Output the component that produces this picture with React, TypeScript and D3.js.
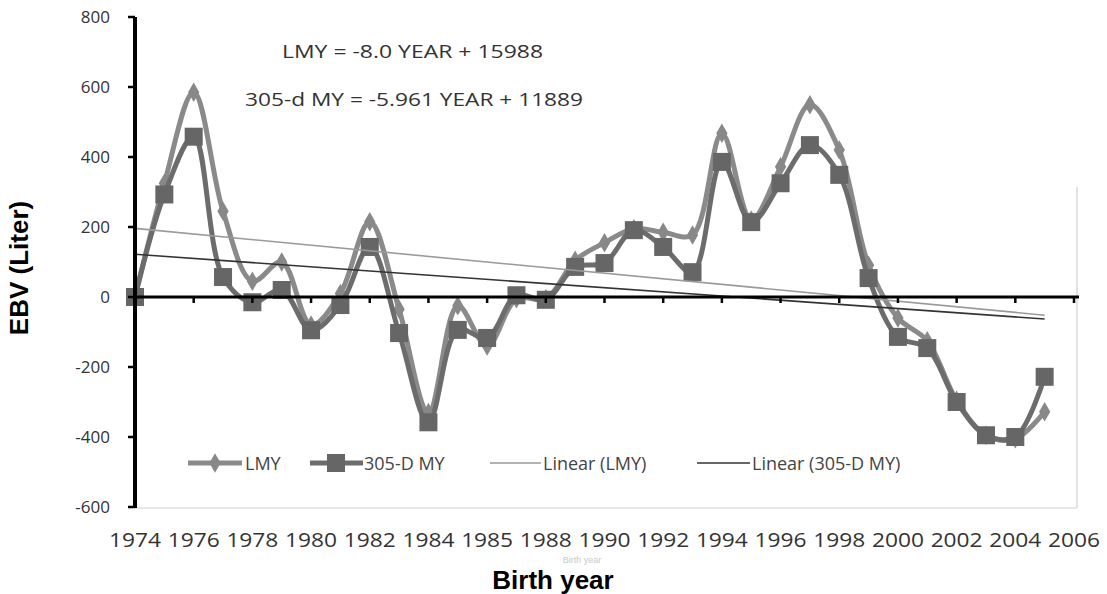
import { useEffect, useRef } from "react";
import * as d3 from "d3";

const years = [
  1974, 1975, 1976, 1977, 1978, 1979, 1980, 1981, 1982, 1983, 1984, 1985, 1986, 1987, 1988, 1989,
  1990, 1991, 1992, 1993, 1994, 1995, 1996, 1997, 1998, 1999, 2000, 2001, 2002, 2003, 2004, 2005,
];
const lmy = [
  0, 325, 585, 245, 45, 100, -80, 10, 215, -35, -330, -25, -140, -5, -5, 105,
  155, 195, 185, 177, 468, 220, 372, 549, 420, 91, -60, -125, -295, -395, -405, -328,
];
const my305 = [
  0, 293, 458, 57, -15, 20, -95, -23, 143, -103, -358, -94, -117, 5, -8, 86,
  97, 191, 143, 71, 386, 214, 325, 434, 349, 54, -114, -146, -300, -395, -400, -228,
];
// trendline equations printed on the chart
const trendLMY = { slope: -8.0, intercept: 15988 };
const trend305 = { slope: -5.961, intercept: 11889 };

const xTickYears = [1974, 1976, 1978, 1980, 1982, 1984, 1986, 1988, 1990, 1992, 1994, 1996, 1998, 2000, 2002, 2004, 2006];
const xTickLabels = ["1974", "1976", "1978", "1980", "1982", "1984", "1985", "1988", "1990", "1992", "1994", "1996", "1998", "2000", "2002", "2004", "2006"];
const yTicks = [-600, -400, -200, 0, 200, 400, 600, 800];

const App = () => {
  const ref = useRef<SVGSVGElement>(null);

  useEffect(() => {
    const width = 1107;
    const height = 594;
    const svg = d3.select(ref.current).attr("width", width).attr("height", height);
    svg.selectAll("*").remove();

    const x = d3.scaleLinear().domain([1974, 2006]).range([135, 1074]);
    const y = d3.scaleLinear().domain([-600, 800]).range([507, 17]);
    const font = "'Open Sans', 'DejaVu Sans', sans-serif";

    // faint plot-area border
    svg.append("line").attr("x1", 1077).attr("x2", 1077).attr("y1", 187).attr("y2", 508)
      .attr("stroke", "#e2e2e2").attr("stroke-width", 2);
    svg.append("line").attr("x1", 135).attr("x2", 1077).attr("y1", 508).attr("y2", 508)
      .attr("stroke", "#e6e6e6").attr("stroke-width", 2);

    const line = d3.line<number>()
      .x((_, i) => x(years[i]))
      .y((d) => y(d))
      .curve(d3.curveCatmullRom.alpha(0.5));

    // LMY series
    svg.append("path").datum(lmy).attr("d", line).attr("fill", "none")
      .attr("stroke", "#8a8a8a").attr("stroke-width", 5);
    svg.append("g").selectAll("path").data(lmy).enter().append("path")
      .attr("d", d3.symbol(d3.symbolDiamond, 110)())
      .attr("transform", (d, i) => `translate(${x(years[i])},${y(d)})`)
      .attr("fill", "#888");

    // 305-d MY series
    svg.append("path").datum(my305).attr("d", line).attr("fill", "none")
      .attr("stroke", "#6c6c6c").attr("stroke-width", 5);
    svg.append("g").selectAll("rect").data(my305).enter().append("rect")
      .attr("x", (_, i) => x(years[i]) - 9)
      .attr("y", (d) => y(d) - 9)
      .attr("width", 18).attr("height", 18)
      .attr("fill", "#666");

    // trendlines
    const first = years[0];
    const last = years[years.length - 1];
    const trend = (t: { slope: number; intercept: number }, color: string) =>
      svg.append("line")
        .attr("x1", x(first)).attr("y1", y(t.slope * first + t.intercept))
        .attr("x2", x(last)).attr("y2", y(t.slope * last + t.intercept))
        .attr("stroke", color).attr("stroke-width", 1.6);
    trend(trendLMY, "#9a9a9a");
    trend(trend305, "#333");

    // axes
    svg.append("line").attr("x1", x(1974)).attr("x2", 1079).attr("y1", y(0)).attr("y2", y(0))
      .attr("stroke", "#000").attr("stroke-width", 3);
    svg.append("g").selectAll("line").data(xTickYears.slice(1)).enter().append("line")
      .attr("x1", (d) => x(d)).attr("x2", (d) => x(d))
      .attr("y1", y(0)).attr("y2", y(0) + 6)
      .attr("stroke", "#000").attr("stroke-width", 2.5);
    svg.append("line").attr("x1", 135).attr("x2", 135).attr("y1", y(800)).attr("y2", y(-600) + 1)
      .attr("stroke", "#000").attr("stroke-width", 4);
    svg.append("g").selectAll("line").data(yTicks).enter().append("line")
      .attr("x1", 128).attr("x2", 135)
      .attr("y1", (d) => y(d)).attr("y2", (d) => y(d))
      .attr("stroke", "#000").attr("stroke-width", 2.5);

    svg.append("g").selectAll("text").data(yTicks).enter().append("text")
      .attr("x", 110).attr("y", (d) => y(d) + 6)
      .attr("text-anchor", "end")
      .attr("font-family", font).attr("font-size", 17)
      .attr("fill", "#333")
      .text((d) => String(d));

    svg.append("g").selectAll("text").data(xTickYears).enter().append("text")
      .attr("x", (d) => x(d)).attr("y", 547)
      .attr("text-anchor", "middle")
      .attr("font-family", font).attr("font-size", 20)
      .attr("textLength", 52).attr("lengthAdjust", "spacingAndGlyphs")
      .attr("fill", "#333")
      .text((_, i) => xTickLabels[i]);

    // equations
    svg.append("text").attr("x", 282).attr("y", 58)
      .attr("font-family", font).attr("font-size", 18).attr("fill", "#333")
      .attr("textLength", 261).attr("lengthAdjust", "spacingAndGlyphs")
      .text("LMY = -8.0 YEAR + 15988");
    svg.append("text").attr("x", 245).attr("y", 106)
      .attr("font-family", font).attr("font-size", 18).attr("fill", "#333")
      .attr("textLength", 338).attr("lengthAdjust", "spacingAndGlyphs")
      .text("305-d MY = -5.961 YEAR + 11889");

    // legend
    const ly = 463;
    const lg = svg.append("g").attr("font-family", font).attr("font-size", 18).attr("fill", "#444");
    lg.append("line").attr("x1", 188).attr("x2", 242).attr("y1", ly).attr("y2", ly)
      .attr("stroke", "#8a8a8a").attr("stroke-width", 5);
    lg.append("path").attr("d", d3.symbol(d3.symbolDiamond, 110)())
      .attr("transform", `translate(215,${ly})`).attr("fill", "#888");
    lg.append("text").attr("x", 245).attr("y", ly + 7).text("LMY");
    lg.append("line").attr("x1", 310).attr("x2", 363).attr("y1", ly).attr("y2", ly)
      .attr("stroke", "#6c6c6c").attr("stroke-width", 5);
    lg.append("rect").attr("x", 327).attr("y", ly - 9).attr("width", 18).attr("height", 18).attr("fill", "#666");
    lg.append("text").attr("x", 364).attr("y", ly + 7).text("305-D MY");
    lg.append("line").attr("x1", 490).attr("x2", 541).attr("y1", ly).attr("y2", ly)
      .attr("stroke", "#9a9a9a").attr("stroke-width", 1.6);
    lg.append("text").attr("x", 543).attr("y", ly + 7).text("Linear (LMY)");
    lg.append("line").attr("x1", 697).attr("x2", 750).attr("y1", ly).attr("y2", ly)
      .attr("stroke", "#333").attr("stroke-width", 1.6);
    lg.append("text").attr("x", 752).attr("y", ly + 7).text("Linear (305-D MY)");

    // axis titles
    svg.append("text").attr("x", 582).attr("y", 563)
      .attr("text-anchor", "middle").attr("font-family", "'Liberation Sans', Arial, sans-serif")
      .attr("font-size", 9).attr("fill", "#c8c8c8").text("Birth year");
    svg.append("text").attr("x", 553).attr("y", 589)
      .attr("text-anchor", "middle").attr("font-family", "'Liberation Sans', Arial, sans-serif")
      .attr("font-size", 26).attr("font-weight", "bold").attr("fill", "#000")
      .text("Birth year");
    svg.append("text")
      .attr("transform", "translate(28,268) rotate(-90)")
      .attr("text-anchor", "middle").attr("font-family", "'Liberation Sans', Arial, sans-serif")
      .attr("font-size", 26).attr("font-weight", "bold").attr("fill", "#000")
      .text("EBV (Liter)");
  }, []);

  return (
    <div style={{ position: "absolute", left: 0, top: 0 }}>
      <svg ref={ref} />
    </div>
  );
};

export default App;
